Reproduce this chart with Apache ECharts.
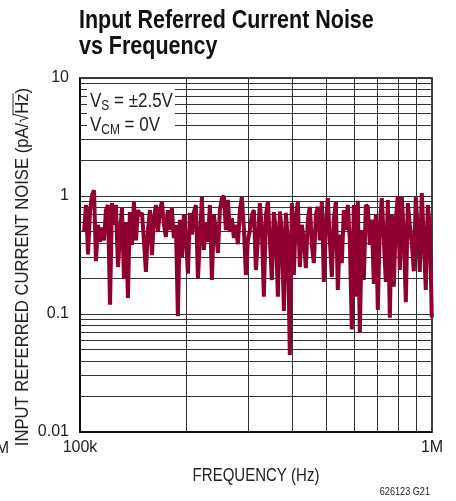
<!DOCTYPE html>
<html><head><meta charset="utf-8">
<script src="https://cdn.jsdelivr.net/npm/echarts@6/dist/echarts.min.js"></script>
<style>html,body{margin:0;padding:0;background:#fff}#c{width:456px;height:501px}</style>
</head><body><div id="c"></div>
<script>
// Frequency sample points (kHz)
const freqKHz = [
  102.7,104.0,105.4,106.8,108.2,109.6,111.0,112.5,114.0,115.5,
  117.0,118.5,120.1,121.7,123.3,124.9,126.5,128.2,129.9,131.6,
  133.3,135.1,136.8,138.6,140.5,142.3,144.2,146.1,148.0,150.0,
  151.9,153.9,156.0,158.0,160.1,162.2,164.3,166.5,168.7,170.9,
  173.2,175.4,177.7,180.1,182.4,184.8,187.3,189.7,192.2,194.8,
  197.3,199.9,202.6,205.2,207.9,210.7,213.4,216.3,219.1,222.0,
  224.9,227.9,230.9,233.9,237.0,240.1,243.3,246.5,249.7,253.0,
  256.3,259.7,263.1,266.6,270.1,273.6,277.2,280.9,284.6,288.3,
  292.1,296.0,299.9,303.8,307.8,311.9,316.0,320.1,324.3,328.6,
  332.9,337.3,341.8,346.3,350.8,355.4,360.1,364.9,369.7,374.5,
  379.5,384.5,389.5,394.6,399.8,405.1,410.4,415.8,421.3,426.9,
  432.5,438.2,443.9,449.8,455.7,461.7,467.8,473.9,480.2,486.5,
  492.9,499.4,505.9,512.6,519.3,526.2,533.1,540.1,547.2,554.4,
  561.7,569.1,576.6,584.2,591.9,599.7,607.6,615.6,623.7,631.9,
  640.2,648.6,657.2,665.8,674.6,683.5,692.5,701.6,710.8,720.2,
  729.7,739.3,749.0,758.9,768.9,779.0,789.2,799.6,810.2,820.8,
  831.6,842.6,853.7,864.9,876.3,887.8,899.5,911.3,923.3,935.5,
  947.8,960.3,972.9,985.7,998.7
];
// Input referred current noise (pA/√Hz)
const noise = [
  0.5,0.84,0.32,0.76,1.02,1.12,0.28,0.57,0.41,0.54,
  0.42,0.76,0.84,0.12,0.87,0.57,0.84,0.25,0.47,0.79,
  0.2,0.6,0.137,0.73,0.385,0.89,0.42,0.76,0.69,0.72,
  0.42,0.227,0.515,0.76,0.316,0.65,0.84,0.5,0.76,0.89,
  0.57,0.45,0.76,0.515,0.79,0.44,0.57,0.096,0.63,0.3,
  0.69,0.44,0.22,0.72,0.47,0.73,0.84,0.2,0.42,0.98,
  0.35,0.6,0.41,0.84,0.194,0.69,0.5,0.33,0.76,0.96,
  1.0,0.515,0.925,0.5,0.65,0.44,0.57,0.39,0.76,0.98,
  0.54,0.214,0.42,0.515,0.69,0.76,0.236,0.42,0.87,0.515,
  0.14,0.69,0.89,0.42,0.194,0.73,0.515,0.14,0.74,0.5,
  0.106,0.72,0.42,0.045,0.87,0.214,0.69,0.89,0.25,0.57,
  0.42,0.245,0.63,0.81,0.385,0.27,0.69,0.81,0.42,0.89,
  0.187,0.57,0.96,0.42,0.206,0.63,0.89,0.16,0.47,0.27,
  0.76,0.515,0.84,0.42,0.074,0.84,0.14,0.91,0.069,0.515,
  0.194,0.84,0.81,0.385,0.63,0.18,0.69,0.108,0.57,0.96,
  0.42,0.187,0.925,0.093,0.69,0.17,0.63,1.0,0.236,0.98,
  0.47,0.126,0.87,0.57,0.4,0.23,0.98,0.515,0.227,1.06,
  0.42,0.16,0.84,0.55,0.093
];
const xTickLabels = {100: '100k', 1000: '1M'};
const yTickLabels = ['0.01', '0.1', '1', '10'];
const xMinorGrid = [200, 300, 400, 500, 600, 700, 800, 900];
const yMinorGrid = [0.02,0.03,0.04,0.05,0.06,0.07,0.08,0.09,
                    0.2,0.3,0.4,0.5,0.6,0.7,0.8,0.9,
                    2,3,4,5,6,7,8,9];
const titleLines = ['Input Referred Current Noise', 'vs Frequency'];
const xName = 'FREQUENCY (Hz)';
const yNamePre = 'INPUT REFERRED CURRENT NOISE (pA/';
const yNameRoot = '√';
const yNameHz = 'Hz';
const yNameEnd = ')';
const legendLines = [['V', 'S', ' = ±2.5V'], ['V', 'CM', ' = 0V']];
const figId = '626123 G21';

const FONT = '"Liberation Sans", Arial, sans-serif';
const LINE_COLOR = '#8f0030';
const GRID_COLOR = '#333';

// measure y-name pieces for overline
const mctx = document.createElement('canvas').getContext('2d');
mctx.font = '19px "Liberation Sans"';
const yNameFull = yNamePre + yNameRoot + yNameHz + yNameEnd;
const wFull = mctx.measureText(yNameFull).width;
const wPre = mctx.measureText(yNamePre).width;
const wRoot = mctx.measureText(yNameRoot).width;
const wHz = mctx.measureText(yNameHz).width;
const olX1 = -wFull / 2 + wPre + wRoot * 0.8;
const olX2 = -wFull / 2 + wPre + wRoot + wHz;

const chart = echarts.init(document.getElementById('c'), null, {renderer: 'canvas'});

const legendGraphics = legendLines.map((ln, i) => ({
  type: 'text', x: 90, y: 89 + i * 24, scaleX: 0.85, z: 20,
  style: {
    text: '{v|' + ln[0] + '}{s|' + ln[1] + '}{v|' + ln[2] + '}',
    rich: {
      v: {fontSize: 20, fontFamily: FONT, fill: '#222', lineHeight: 24},
      s: {fontSize: 14, fontFamily: FONT, fill: '#222', verticalAlign: 'bottom', lineHeight: 16}
    }
  }
}));

chart.setOption({
  animation: false,
  backgroundColor: '#fff',
  grid: {left: 80, right: 24, top: 78, bottom: 69, show: true, borderColor: '#000', borderWidth: 1.5, containLabel: false},
  xAxis: {
    type: 'log', logBase: 10, min: 100, max: 1000,
    axisLine: {show: true, lineStyle: {color: '#000', width: 1.5}},
    axisTick: {show: false},
    splitLine: {show: false},
    axisLabel: {
      margin: 8, fontFamily: FONT, fontSize: 16, color: '#222',
      showMinLabel: true, showMaxLabel: true,
      formatter: v => xTickLabels[Math.round(v)] || ''
    }
  },
  yAxis: {
    type: 'log', logBase: 10, min: 0.01, max: 10,
    axisLine: {show: true, lineStyle: {color: '#000', width: 1.5}},
    axisTick: {show: false},
    splitLine: {show: true, lineStyle: {color: GRID_COLOR, width: 1}},
    axisLabel: {
      margin: 11, fontFamily: FONT, fontSize: 16, color: '#222',
      formatter: v => yTickLabels[Math.round(Math.log10(v)) + 2] || ''
    }
  },
  series: [
    {
      type: 'line', data: [], z: 1, silent: true,
      markLine: {
        silent: true, symbol: ['none', 'none'], animation: false,
        label: {show: false},
        lineStyle: {color: GRID_COLOR, width: 1, type: 'solid'},
        emphasis: {disabled: true},
        data: xMinorGrid.map(v => ({xAxis: v})).concat(yMinorGrid.map(v => ({yAxis: v})))
      }
    },
    {
      type: 'line', z: 5, showSymbol: false, symbol: 'none', silent: true,
      lineStyle: {color: LINE_COLOR, width: 4},
      data: freqKHz.map((f, i) => [f, noise[i]])
    }
  ],
  graphic: [
    {type: 'text', x: 79, y: 8, scaleX: 0.826, style: {text: titleLines[0], font: 'bold 26px ' + FONT, fill: '#111'}},
    {type: 'text', x: 79, y: 34, scaleX: 0.826, style: {text: titleLines[1], font: 'bold 26px ' + FONT, fill: '#111'}},
    {type: 'rect', shape: {x: 87, y: 85, width: 88, height: 52}, style: {fill: '#fff'}, z: 15},
    ...legendGraphics,
    {
      type: 'group', x: 23, y: 267, rotation: Math.PI / 2, scaleX: 0.875,
      children: [
        {type: 'text', x: 0, y: 0, style: {text: yNameFull, font: '19px ' + FONT, fill: '#222', textAlign: 'center', textVerticalAlign: 'middle'}},
        {type: 'line', shape: {x1: olX1, y1: -10, x2: olX2, y2: -10}, style: {stroke: '#222', lineWidth: 1}}
      ]
    },
    {type: 'text', x: 256, y: 476, scaleX: 0.834, style: {text: xName, font: '18px ' + FONT, fill: '#222', textAlign: 'center', textVerticalAlign: 'middle'}},
    {type: 'text', x: 430, y: 492, scaleX: 0.83, style: {text: figId, font: '11px ' + FONT, fill: '#222', textAlign: 'right', textVerticalAlign: 'middle'}},
    {type: 'text', x: 9, y: 449, style: {text: '1M', font: '16px ' + FONT, fill: '#222', textAlign: 'right', textVerticalAlign: 'middle'}}
  ]
});
</script>
</body></html>
